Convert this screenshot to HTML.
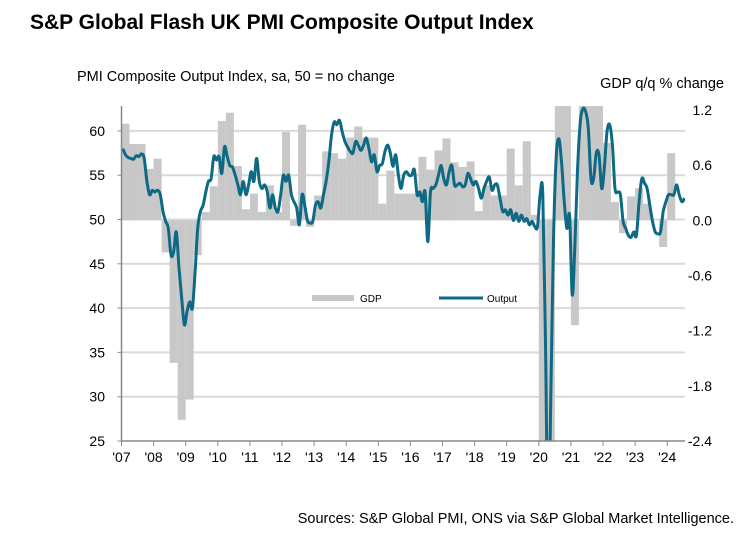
<!DOCTYPE html>
<html><head><meta charset="utf-8">
<style>
html,body{margin:0;padding:0;background:#fff;width:754px;height:544px;overflow:hidden;font-family:"Liberation Sans",Arial,sans-serif;}
svg{display:block;overflow:hidden;}
svg text{font-family:"Liberation Sans",Arial,sans-serif;}
</style></head>
<body>
<svg width="754" height="544">
<text x="30" y="29" font-size="21" font-weight="bold" fill="#000">S&amp;P Global Flash UK PMI Composite Output Index</text>
<text x="77" y="81" font-size="14.5" fill="#000">PMI Composite  Output  Index, sa, 50 = no change</text>
<text x="724" y="88" font-size="14.5" fill="#000" text-anchor="end">GDP q/q % change</text>
<g id="grid"></g>
<g id="bars"></g>
<g id="line"></g>
<g id="axes"></g>
<g>
<rect x="312" y="295" width="42" height="6" fill="#c8c8c8"/>
<text x="360" y="302" font-size="10">GDP</text>
<line x1="439" y1="298" x2="483" y2="298" stroke="#0e6a84" stroke-width="3"/>
<text x="487" y="302" font-size="10">Output</text>
</g>
<text x="734" y="523" font-size="14.5" text-anchor="end">Sources: S&amp;P Global PMI, ONS via S&amp;P Global Market Intelligence.</text>
</svg>
<script>
const leftTicks=[25,30,35,40,45,50,55,60];
const rightTicks=["1.2","0.6","0.0","-0.6","-1.2","-1.8","-2.4"];
const rightTickValues=[1.2,0.6,0,-0.6,-1.2,-1.8,-2.4];
const yearLabels=["'07","'08","'09","'10","'11","'12","'13","'14","'15","'16","'17","'18","'19","'20","'21","'22","'23","'24"];
const gdp=[1.05,0.83,0.83,0.56, 0.67,-0.35,-1.55,-2.17, -1.95,-0.38,0.09,0.37, 1.08,1.17,0.59,0.12, 0.29,0.09,0.38,0.09, 0.96,-0.06,1.04,-0.07, 0.27,0.75,0.73,0.67, 0.9,1.02,0.9,0.9, 0.18,0.54,0.29,0.29, 0.29,0.69,0.55,0.76, 0.89,0.63,0.58,0.64, 0.1,0.38,0.27,0.27, 0.78,0.38,0.86,0.06, -2.7,-20.3,16.0,1.5, -1.14,5.8,1.5,1.6, 0.84,0.2,-0.14,0.26, 0.35,0.18,0.0,-0.29, 0.73];
const output=[58.0,57.3,57.0,56.9,56.8,57.2,57.1,57.4,56.9,54.3,52.8,53.3,
53.1,53.3,52.8,50.9,49.8,49.0,46.0,46.4,48.6,44.5,41.1,38.1,
39.6,40.7,40.0,44.1,49.0,50.9,51.6,53.1,54.3,54.6,57.1,56.7,
57.1,55.2,58.2,57.1,56.1,55.9,55.0,53.9,52.8,54.3,52.8,53.9,
55.4,54.3,56.9,54.3,53.5,53.9,53.1,51.3,52.8,51.3,50.9,52.8,
55.0,54.3,55.0,52.8,52.0,51.3,49.4,52.8,51.6,49.9,49.6,49.8,
51.6,52.0,51.3,52.8,54.3,56.5,59.5,61.0,60.7,61.2,59.9,58.8,
58.2,57.7,57.5,58.8,58.4,57.8,58.4,59.2,58.0,56.5,57.3,55.4,
56.1,56.3,57.7,58.4,57.5,56.0,57.3,55.0,53.5,55.0,55.4,55.0,
55.0,55.6,52.8,53.1,52.0,53.1,47.5,53.1,53.5,53.9,55.0,56.1,
54.6,53.9,55.4,56.1,53.9,53.9,54.1,53.7,53.9,55.2,54.6,53.9,
54.3,53.5,52.4,53.5,54.3,54.8,53.3,53.9,53.9,52.4,50.9,51.1,
50.5,51.1,49.9,50.7,49.8,50.5,49.8,50.1,49.4,49.8,49.2,49.2,
52.8,52.8,36.0,13.8,30.0,47.7,57.0,59.1,56.5,52.1,49.0,50.4,
41.5,47.1,55.8,61.0,62.5,62.2,60.3,54.6,54.6,57.5,57.3,53.5,
55.8,59.9,60.7,58.4,53.5,53.1,52.8,49.8,49.0,48.2,48.0,48.6,
48.2,52.0,54.6,54.1,53.5,51.6,49.8,48.6,48.4,48.6,50.9,52.0,
52.8,52.8,52.8,53.9,52.8,52.0,52.4];

const X0=121.5,YEARW=32.1,PT=106,PB=441,PR=685;
const yL=v=>441-(v-25)*8.86;
const yR=v=>220.3-v*(220.3-441)/(-2.4);
const xT=t=>X0+t*YEARW;
const NS="http://www.w3.org/2000/svg";
function mk(tag,attrs,parent){const e=document.createElementNS(NS,tag);for(const k in attrs)e.setAttribute(k,attrs[k]);parent.appendChild(e);return e;}
const grid=document.getElementById('grid'),bars=document.getElementById('bars'),line=document.getElementById('line'),axes=document.getElementById('axes');
const svg=document.querySelector('svg');
const defs=mk('defs',{},svg);const cp=mk('clipPath',{id:'plotclip'},defs);mk('rect',{x:X0,y:PT,width:PR-X0,height:PB-PT},cp);

leftTicks.forEach(v=>{
  if(v>25){const g=mk('line',{x1:X0,x2:PR,y1:yL(v),y2:yL(v),stroke:'#d9d9d9','stroke-width':2},grid);
  
  }
  const tk=mk('line',{x1:X0-4,x2:X0,y1:yL(v),y2:yL(v),stroke:'#888','stroke-width':1},axes);
  
  
  const t=mk('text',{x:105,y:yL(v)+5,'font-size':14,'text-anchor':'end',fill:'#000'},axes);t.textContent=v;
  
  
});
rightTicks.forEach((s,i)=>{
  const t=mk('text',{x:712,y:yR(rightTickValues[i])+5,'font-size':14,'text-anchor':'end',fill:'#000'},axes);t.textContent=s;
  
  
});
const RMIN=-2.4,RMAX=(220.3-PT)/((441-220.3)/2.4);
gdp.forEach((v,i)=>{
  const vc=Math.max(RMIN,Math.min(RMAX,v));
  const x=xT(i/4);const y0=yR(0);const y1=yR(vc);
  const r=mk('rect',{x:x,y:Math.min(y0,y1),width:YEARW/4,height:Math.abs(y1-y0),fill:'#c8c8c8'},bars);
  
  
});
const pts=output.map((v,i)=>[xT((i+0.5)/12),yL(v)]);
let d='M'+pts[0][0].toFixed(1)+','+pts[0][1].toFixed(1);
for(let i=0;i<pts.length-1;i++){
  const p0=pts[Math.max(0,i-1)],p1=pts[i],p2=pts[i+1],p3=pts[Math.min(pts.length-1,i+2)];
  const c1=[p1[0]+(p2[0]-p0[0])/6,p1[1]+(p2[1]-p0[1])/6],c2=[p2[0]-(p3[0]-p1[0])/6,p2[1]-(p3[1]-p1[1])/6];
  d+=' C'+c1.map(n=>n.toFixed(1))+' '+c2.map(n=>n.toFixed(1))+' '+p2.map(n=>n.toFixed(1));
}
const pl=mk('path',{d:d,fill:'none',stroke:'#0e6a84','stroke-width':3,'stroke-linejoin':'round','clip-path':'url(#plotclip)'},line);


const la=mk('line',{x1:X0,x2:X0,y1:PT,y2:PB,stroke:'#888','stroke-width':1.5},axes);


const ba=mk('line',{x1:X0,x2:PR,y1:PB,y2:PB,stroke:'#888','stroke-width':1.5},axes);


yearLabels.forEach((s,i)=>{
  const x=xT(i);
  const tk=mk('line',{x1:x,x2:x,y1:PB,y2:PB+5,stroke:'#888','stroke-width':1},axes);
  
  
  const t=mk('text',{x:x,y:PB+21,'font-size':14,'text-anchor':'middle',fill:'#000'},axes);t.textContent=s;
  
  
});
</script>
</body></html>
